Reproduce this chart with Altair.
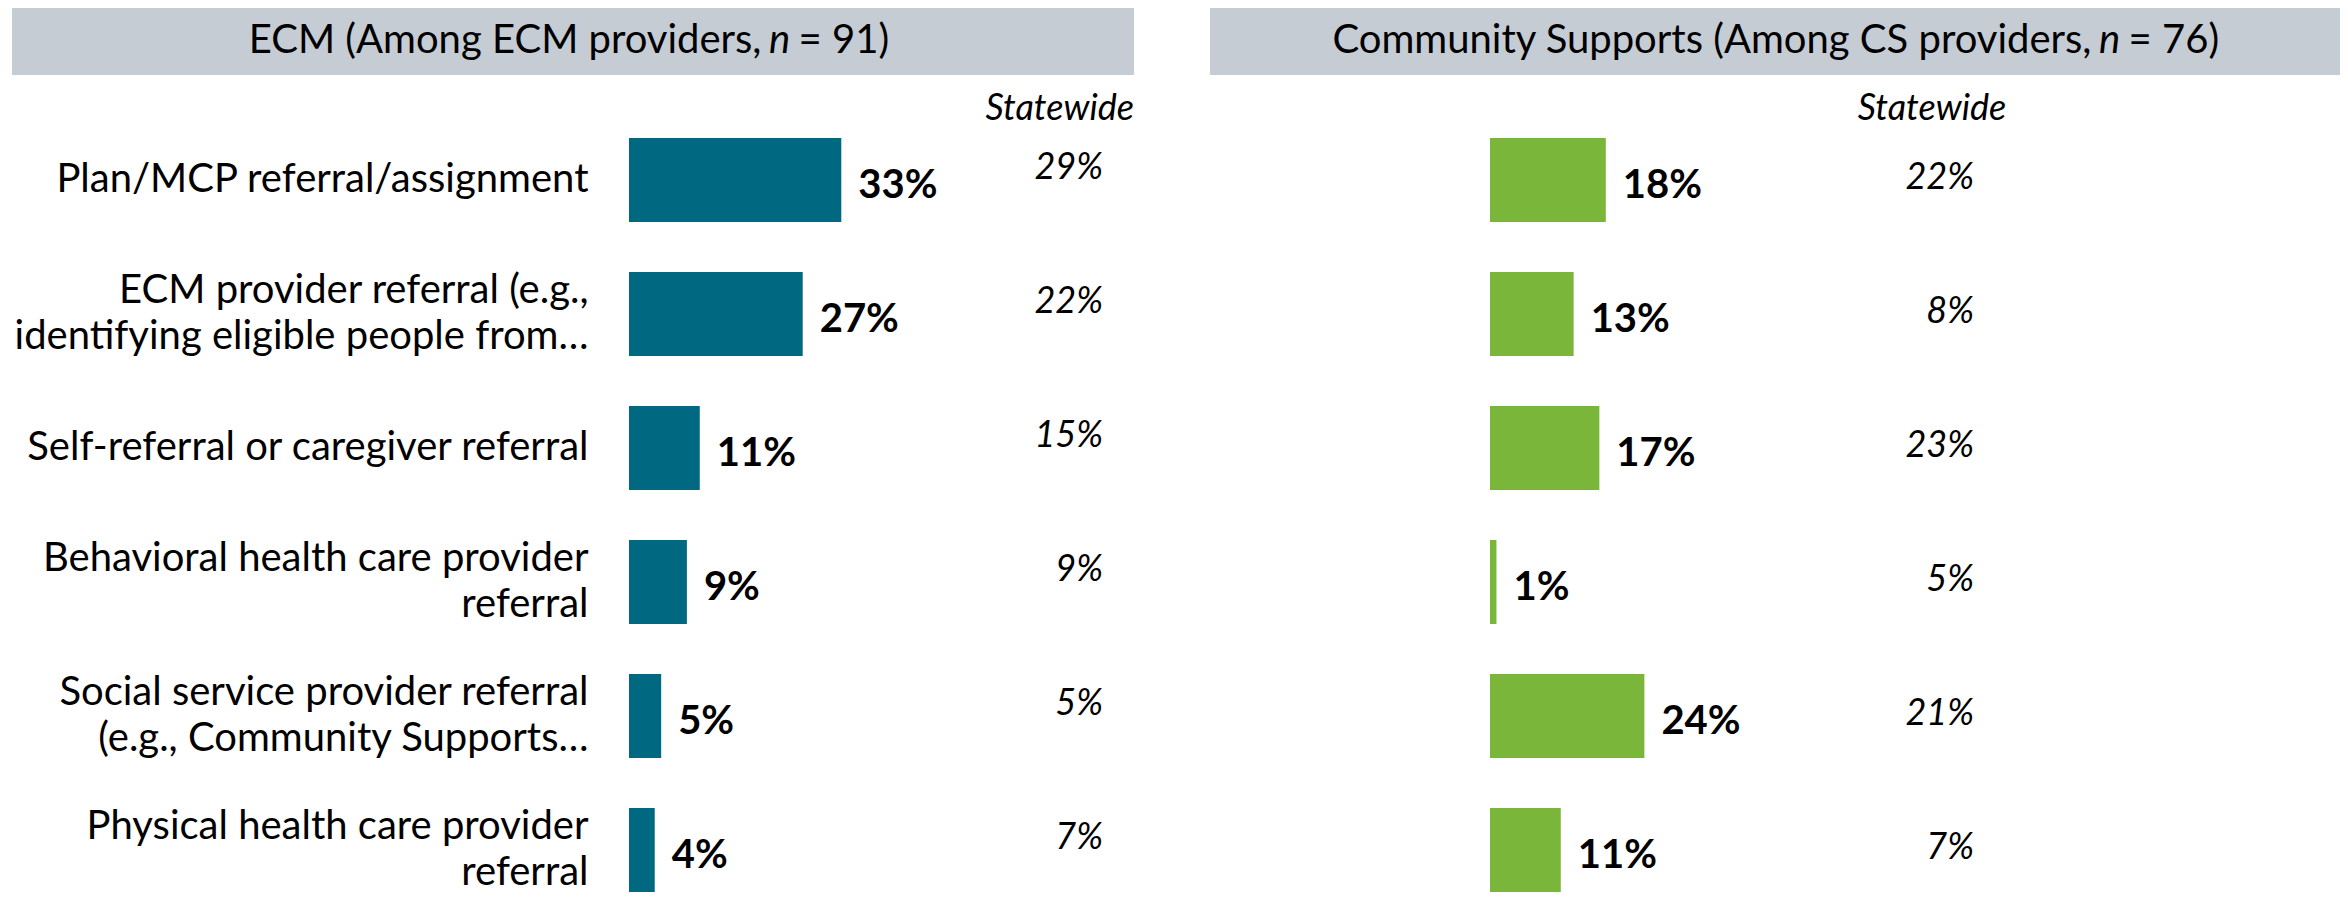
import altair as alt
import pandas as pd

# ---------------- data ----------------
categories = [
    "Plan/MCP referral/assignment",
    "ECM provider referral (e.g.,|identifying eligible people from…",
    "Self-referral or caregiver referral",
    "Behavioral health care provider|referral",
    "Social service provider referral|(e.g., Community Supports…",
    "Physical health care provider|referral",
]
ecm_values = [33, 27, 11, 9, 5, 4]
ecm_statewide = [29, 22, 15, 9, 5, 7]
cs_values = [18, 13, 17, 1, 24, 11]
cs_statewide = [22, 8, 23, 5, 21, 7]

ecm_title = ["ECM (Among ECM providers,", "n", "= 91)"]
cs_title = ["Community Supports (Among CS providers,", "n", "= 76)"]
statewide_label = "Statewide"

# ---------------- style ----------------
ECM_COLOR = "#006880"
CS_COLOR = "#7AB63A"
HEADER_GREY = "#C5CCD4"
FONT = "Lato"
F = 40
PLOT_W = 505
PLOT_H = 754
XMAX = 78.5
one = pd.DataFrame({"k": [0]})


def header_layers(parts, left, right, center, a_em):
    """Grey band + title text with italic n."""
    rect = alt.Chart(one).mark_rect(color=HEADER_GREY).encode(
        x=alt.value(left), x2=alt.value(right), y=alt.value(-130), y2=alt.value(-63)
    )
    sp = 0.19 * F
    n_w = 0.55 * F
    c_w = 2.23 * F
    a_w = a_em * F
    total = a_w + sp + n_w + sp + c_w
    x0 = center - total / 2
    a_right = x0 + a_w
    n_left = a_right + sp
    c_left = n_left + n_w + sp
    common = dict(font=FONT, fontSize=F, baseline="middle", color="black")
    ta = alt.Chart(one).mark_text(align="right", **common).encode(
        x=alt.value(a_right), y=alt.value(-97), text=alt.value(parts[0]))
    tn = alt.Chart(one).mark_text(align="left", fontStyle="italic", **common).encode(
        x=alt.value(n_left), y=alt.value(-97), text=alt.value(parts[1]))
    tc = alt.Chart(one).mark_text(align="left", **common).encode(
        x=alt.value(c_left), y=alt.value(-97), text=alt.value(parts[2]))
    return [rect, ta, tn, tc]


def panel(values, statewide, color, show_axis, parts, hdr_left, hdr_right,
          hdr_center, a_em, sw_hdr_x, sw_hdr_align, sw_x, sw_dy):
    df = pd.DataFrame({"cat": categories, "val": values, "sw": statewide})
    if show_axis:
        yaxis = alt.Axis(title=None, domain=False, ticks=False, labelFont=FONT,
                         labelFontSize=F, labelColor="black", labelPadding=41,
                         labelLimit=800, labelLineHeight=46, labelAlign="right",
                         labelBaseline="middle",
                         labelOffset=alt.condition(
                             "indexof(datum.value, '|') >= 0",
                             alt.value(-23), alt.value(0)),
                         labelExpr="split(datum.label, '|')")
    else:
        yaxis = None
    y = alt.Y("cat:N", sort=categories, axis=yaxis,
              scale=alt.Scale(paddingInner=0.373, paddingOuter=0))
    x = alt.X("val:Q", axis=None, scale=alt.Scale(domain=[0, XMAX]))
    base = alt.Chart(df).transform_calculate(
        vlab="datum.val + '%'", slab="datum.sw + '%'")
    bars = base.mark_bar(color=color).encode(x=x, y=y)
    vals = base.mark_text(align="left", baseline="middle", dx=17, dy=6,
                          font=FONT, fontSize=F, fontWeight="bold",
                          color="black").encode(x=x, y=y, text="vlab:N")
    sws = base.mark_text(align="right", baseline="middle", dy=sw_dy,
                         font=FONT, fontSize=36, fontStyle="italic",
                         color="black").encode(x=alt.value(sw_x), y=y, text="slab:N")
    swh = alt.Chart(one).mark_text(align=sw_hdr_align, baseline="middle",
                                   font=FONT, fontSize=36, fontStyle="italic",
                                   color="black").encode(
        x=alt.value(sw_hdr_x), y=alt.value(-29), text=alt.value(statewide_label))
    layers = header_layers(parts, hdr_left, hdr_right, hdr_center, a_em)
    return alt.layer(*layers, bars, vals, sws, swh).properties(
        width=PLOT_W, height=PLOT_H)


left = panel(ecm_values, ecm_statewide, ECM_COLOR, True, ecm_title,
             -617, 505, -56, 12.58, 505, "right", 474, -12)
right = panel(cs_values, cs_statewide, CS_COLOR, False, cs_title,
              -280, 850, 289, 18.78, 442, "center", 484, -2)

chart = alt.hconcat(left, right, spacing=76).properties(
    padding={"left": 4, "top": 0, "right": 0, "bottom": 0},
    background="white",
).configure_view(stroke=None)

chart.save("out.html", embed_options={"renderer": "svg", "actions": False})
